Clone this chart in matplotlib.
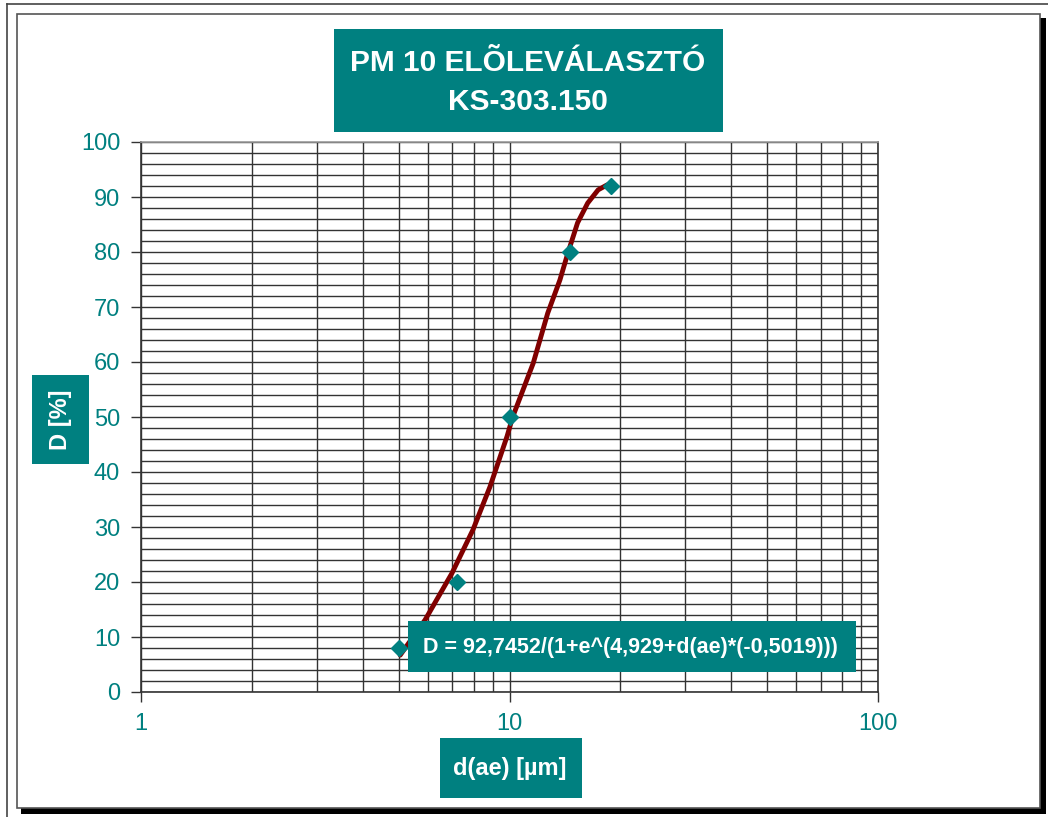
import matplotlib
matplotlib.use("Agg")
import matplotlib.pyplot as plt
from matplotlib.patches import Rectangle
from matplotlib.ticker import FixedLocator, NullFormatter

# measured points
d_meas = [5.0, 7.2, 10.0, 14.6, 18.9]
D_meas = [8, 20, 50, 80, 92]

# fitted curve
d_fit = [5.05, 5.9, 6.98, 7.96, 8.85, 9.85, 10.2, 11.6, 12.7, 13.7, 14.4, 15.3, 16.3, 17.4, 18.4, 19.0]
D_fit = [6.7, 13.1, 21.6, 29.5, 37.3, 46.5, 50.0, 59.8, 68.9, 74.9, 79.8, 85.3, 88.9, 91.3, 92.2, 91.6]

title_lines = ["PM 10 ELÕLEVÁLASZTÓ", "KS-303.150"]
equation = "D = 92,7452/(1+e^(4,929+d(ae)*(-0,5019)))"
xlabel = "d(ae) [µm]"
ylabel = "D [%]"

teal = "#008080"
W, H = 1048, 817

plt.rcParams['font.family'] = ['Liberation Sans', 'DejaVu Sans']
fig = plt.figure(figsize=(W / 100, H / 100), dpi=100)


def fx(px):
    return px / W


def fy(py):
    return 1 - py / H


def box(x0, y0, x1, y1, **kw):
    fig.patches.append(Rectangle((fx(x0), fy(y1)), fx(x1) - fx(x0), fy(y0) - fy(y1),
                                 transform=fig.transFigure, figure=fig, **kw))


# page frame + shadow (behind the axes)
fig.add_artist(plt.Line2D([fx(7), fx(7)], [fy(4), 0], color="#444444", lw=1.2, zorder=-10))
fig.add_artist(plt.Line2D([fx(7), 1], [fy(4), fy(4)], color="#444444", lw=1.2, zorder=-10))
box(21, 808, 1046, 814, facecolor="black", edgecolor="none", zorder=-10)
box(1040, 18, 1046, 814, facecolor="black", edgecolor="none", zorder=-10)
box(17, 14, 1040, 808, facecolor="white", edgecolor="#555555", lw=1.2, zorder=-9)

ax = fig.add_axes([fx(141), fy(692), fx(878) - fx(141), fy(142) - fy(692)])
ax.patch.set_alpha(0)
ax.set_xscale("log")
ax.set_xlim(1, 100)
ax.set_ylim(0, 100)

ax.xaxis.set_major_locator(FixedLocator([1, 10, 100]))
ax.xaxis.set_minor_locator(FixedLocator([2, 3, 4, 5, 6, 7, 8, 9, 20, 30, 40, 50, 60, 70, 80, 90]))
ax.xaxis.set_minor_formatter(NullFormatter())
ax.set_xticklabels(["1", "10", "100"])
ax.set_yticks(range(0, 101, 10))
ax.yaxis.set_minor_locator(FixedLocator(range(0, 101, 2)))

ax.grid(True, which="both", axis="both", color="#333333", lw=1.0)
ax.set_axisbelow(True)
ax.tick_params(which="major", direction="out", length=7, width=1, color="#333333",
               labelsize=17, labelcolor=teal, pad=8)
ax.tick_params(which="minor", length=0)
for s in ax.spines.values():
    s.set_color("#333333")
    s.set_linewidth(1.2)
ax.spines["top"].set_color("#999999")

ax.plot(d_fit, D_fit, color="#800000", lw=3.5, solid_capstyle="round", zorder=3)
ax.plot(d_meas, D_meas, linestyle="none", marker="D", markersize=8.5, color=teal, zorder=4)

# title box
box(334, 29, 723, 132, facecolor=teal, edgecolor="none")
fig.text(fx(528), fy(63), title_lines[0], color="white", fontsize=21.5, fontweight="bold",
         ha="center", va="center")
fig.text(fx(528), fy(102), title_lines[1], color="white", fontsize=21.5, fontweight="bold",
         ha="center", va="center")

# equation box
box(408, 621, 856, 672, facecolor=teal, edgecolor="none", zorder=5)
fig.text(fx(630), fy(647), equation, color="white", fontsize=15.5, fontweight="bold",
         ha="center", va="center", zorder=6)

# axis label boxes
box(32, 375, 89, 464, facecolor=teal, edgecolor="none")
fig.text(fx(60), fy(420), ylabel, color="white", fontsize=17, fontweight="bold",
         ha="center", va="center", rotation=90)
box(440, 738, 582, 798, facecolor=teal, edgecolor="none")
fig.text(fx(510), fy(768), xlabel, color="white", fontsize=17, fontweight="bold",
         ha="center", va="center")

fig.savefig("out.png", dpi=100)
